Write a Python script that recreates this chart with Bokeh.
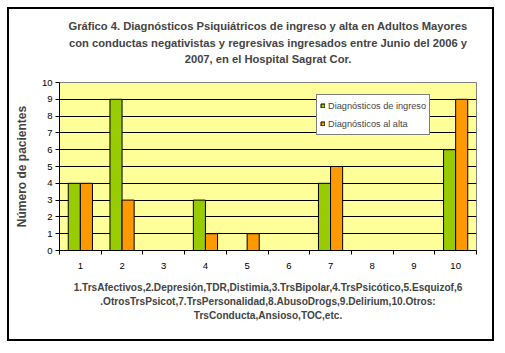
from bokeh.plotting import figure
from bokeh.models import (Range1d, FixedTicker, ColumnDataSource, Legend, LegendItem, Title)
from bokeh.embed import file_html
from bokeh.resources import INLINE

categories = [1, 2, 3, 4, 5, 6, 7, 8, 9, 10]
ingreso = [4, 9, 0, 3, 0, 0, 4, 0, 0, 6]
alta = [4, 3, 0, 1, 1, 0, 5, 0, 0, 9]
series_names = ["Diagnósticos de ingreso", "Diagnósticos al alta"]
title_lines = [
    "Gráfico 4. Diagnósticos Psiquiátricos de ingreso y alta en Adultos Mayores",
    "con conductas negativistas y regresivas ingresados entre Junio del 2006 y",
    "2007, en el Hospital Sagrat Cor.",
]
foot_lines = [
    "1.TrsAfectivos,2.Depresión,TDR,Distimia,3.TrsBipolar,4.TrsPsicótico,5.Esquizof,6",
    ".OtrosTrsPsicot,7.TrsPersonalidad,8.AbusoDrogs,9.Delirium,10.Otros:",
    "TrsConducta,Ansioso,TOC,etc.",
]
y_label = "Número de pacientes"

FONT = "Liberation Sans"
# canvas sits inside a CSS border box (margin 7px, border 2px)
W, H = 487, 334
FL, FR, FT, FB = 50, 467, 73, 241

p = figure(width=W, height=H, output_backend="svg", toolbar_location=None,
           x_range=Range1d(0.5, 10.5), y_range=Range1d(0, 10),
           min_border_left=FL, min_border_right=W - FR,
           min_border_top=FT, min_border_bottom=H - FB)
p.styles = {"margin-left": "7px", "margin-top": "7px", "border": "2px solid black"}
p.background_fill_color = "#FFFF99"
p.border_fill_color = "white"
p.outline_line_color = "#808080"
p.outline_line_width = 1

bw = 0.29
src = ColumnDataSource(dict(x1=[c - 0.145 for c in categories],
                            x2=[c + 0.145 for c in categories],
                            ing=ingreso, alt=alta))
r1 = p.vbar(x="x1", top="ing", width=bw, source=src, fill_color="#99CC00",
            line_color="black", line_width=1)
r2 = p.vbar(x="x2", top="alt", width=bw, source=src, fill_color="#FF9900",
            line_color="black", line_width=1)

p.xgrid.grid_line_color = None
p.ygrid.grid_line_color = "black"
p.ygrid.grid_line_width = 1
p.ygrid.ticker = FixedTicker(ticks=list(range(0, 11)))
p.yaxis.ticker = FixedTicker(ticks=list(range(0, 11)))
p.xaxis.ticker = FixedTicker(ticks=categories,
                             minor_ticks=[c - 0.5 for c in categories] + [10.5])
for ax in (p.xaxis[0], p.yaxis[0]):
    ax.axis_line_color = "black"
    ax.axis_line_width = 1
    ax.major_label_text_font = FONT
    ax.major_label_text_font_size = "9.5px"
    ax.major_label_text_color = "black"
p.yaxis.major_tick_out = 4
p.yaxis.major_tick_in = 0
p.yaxis.minor_tick_line_color = None
p.yaxis.major_label_standoff = 3
p.yaxis.axis_label = y_label
p.yaxis.axis_label_text_font = FONT
p.yaxis.axis_label_text_font_size = "12px"
p.yaxis.axis_label_text_font_style = "bold"
p.yaxis.axis_label_standoff = 10
p.xaxis.major_tick_line_color = None
p.xaxis.major_tick_out = 4
p.xaxis.minor_tick_out = 4
p.xaxis.minor_tick_in = 0
p.xaxis.minor_tick_line_color = "black"
p.xaxis.major_label_standoff = 8

legend = Legend(items=[LegendItem(label=series_names[0], renderers=[r1]),
                       LegendItem(label=series_names[1], renderers=[r2])],
                location=(316 - 59, 250 - 135), orientation="vertical",
                border_line_color="black", border_line_width=1,
                background_fill_color="white", background_fill_alpha=1,
                padding=3, spacing=3, margin=0,
                glyph_width=5, glyph_height=5, label_height=15, label_standoff=3,
                label_text_font=FONT, label_text_font_size="9.2px")
p.add_layout(legend, "center")

def spacer(standoff):
    return Title(text=" ", text_font=FONT, text_font_size="2px", standoff=standoff)

# header: "above" panels stack outward from the frame
p.add_layout(spacer(12.8), "above")
for t, so in zip(reversed(title_lines), [1.5, 1.5, 3.5]):
    p.add_layout(Title(text=t, align="center", offset=-17,
                       text_font=FONT, text_font_size="11.2px", text_font_style="bold",
                       standoff=so), "above")
# footnote: "below" panels stack downward from the axis
p.add_layout(spacer(3.4), "below")
for t in foot_lines:
    p.add_layout(Title(text=t, align="center",
                       text_font=FONT, text_font_size="10.1px", text_font_style="bold",
                       standoff=0.7), "below")

open("out.html", "w").write(file_html(p, INLINE))
